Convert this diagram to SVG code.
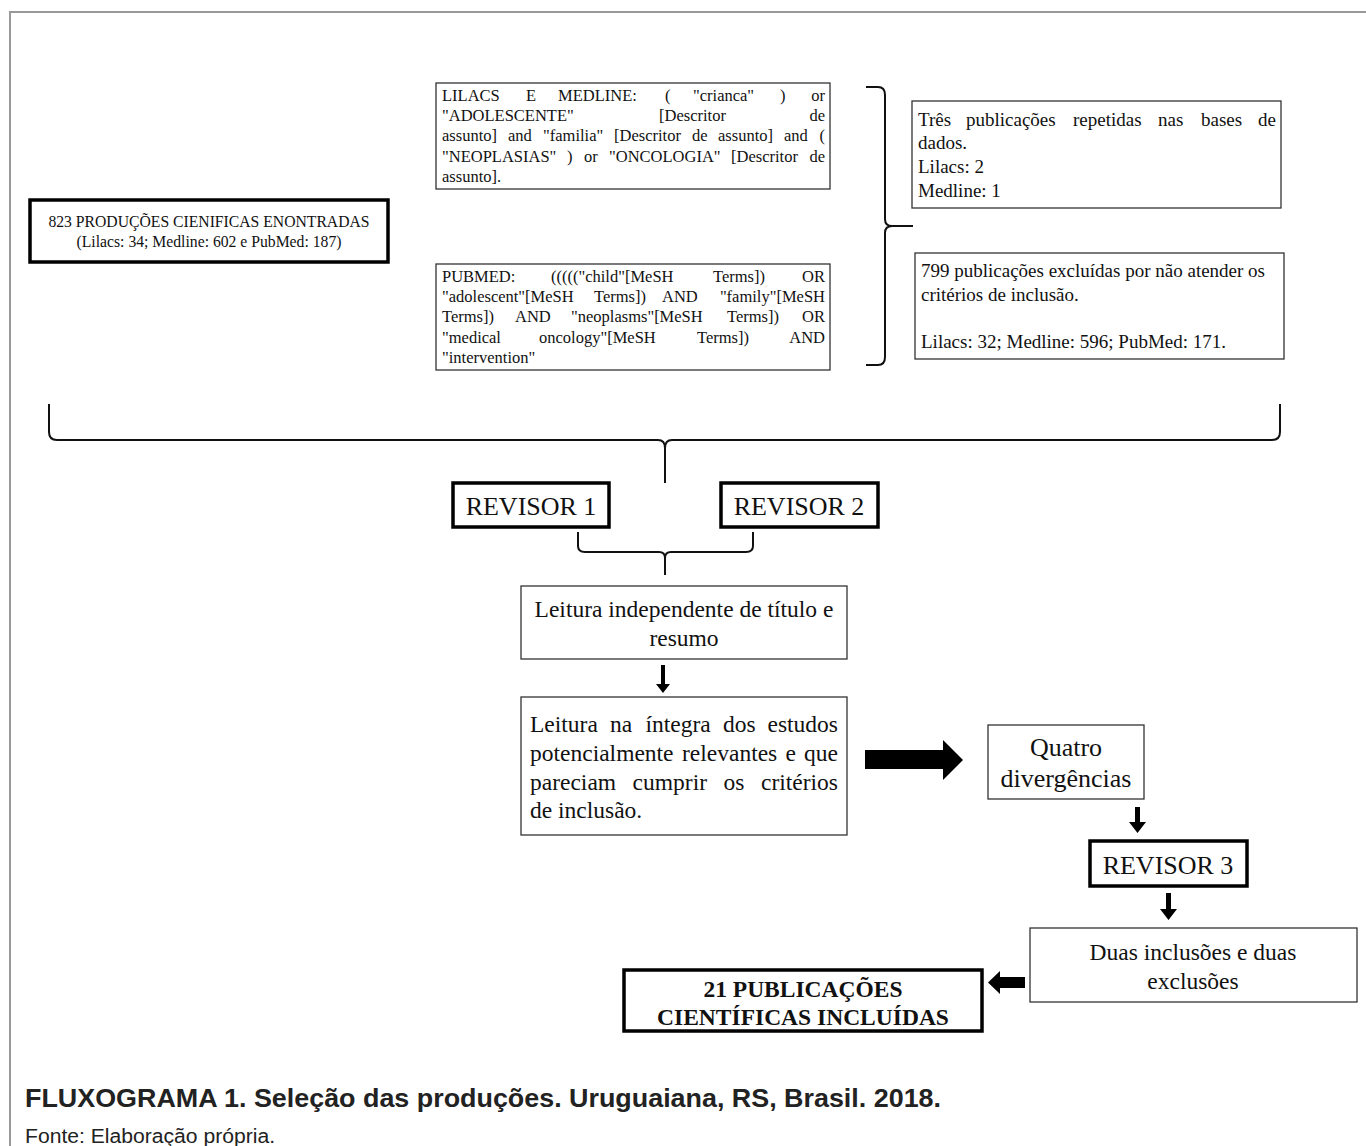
<svg xmlns="http://www.w3.org/2000/svg" width="1366" height="1146" viewBox="0 0 1366 1146">
<style>
.t{font-family:"Liberation Serif","Times New Roman",serif;fill:#111}
.s{font-size:16.5px}
.m{font-size:19px}
.l{font-size:23.5px}
.xl{font-size:26px}
.thin{fill:#fff;stroke:#333;stroke-width:1.3}
.thick{fill:#fff;stroke:#000;stroke-width:3.5}
.br{fill:none;stroke:#111;stroke-width:2}
.ar{fill:#000}
.cap{font-family:"Liberation Sans",Arial,sans-serif;fill:#222}
</style>
<rect x="0" y="0" width="1366" height="1146" fill="#fff"/>
<path d="M10 1146 V12 H1366" fill="none" stroke="#999" stroke-width="2"/>

<g id="n-total">
<rect class="thick" x="30" y="200" width="358" height="62"/>
<text class="t" font-size="15.7" x="209" y="227" text-anchor="middle">823 PRODUÇÕES CIENIFICAS ENONTRADAS</text>
<text class="t" font-size="15.7" x="209" y="247" text-anchor="middle">(Lilacs: 34; Medline: 602 e PubMed: 187)</text>
</g>

<g id="n-lilacs">
<rect class="thin" x="436" y="83" width="394" height="106"/>
<text class="t s" y="101"><tspan x="442">LILACS</tspan><tspan x="526">E</tspan><tspan x="558">MEDLINE:</tspan><tspan x="665">(</tspan><tspan x="693">"crianca"</tspan><tspan x="780">)</tspan><tspan x="825" text-anchor="end">or</tspan></text>
<text class="t s" y="121"><tspan x="442">"ADOLESCENTE"</tspan><tspan x="659">[Descritor</tspan><tspan x="825" text-anchor="end">de</tspan></text>
<text class="t s" y="141"><tspan x="442">assunto]</tspan><tspan x="508">and</tspan><tspan x="543">"familia"</tspan><tspan x="614">[Descritor</tspan><tspan x="692">de</tspan><tspan x="718">assunto]</tspan><tspan x="784">and</tspan><tspan x="825" text-anchor="end">(</tspan></text>
<text class="t s" y="162"><tspan x="442">"NEOPLASIAS"</tspan><tspan x="567">)</tspan><tspan x="584">or</tspan><tspan x="609">"ONCOLOGIA"</tspan><tspan x="731">[Descritor</tspan><tspan x="825" text-anchor="end">de</tspan></text>
<text class="t s" x="442" y="182">assunto].</text>
</g>

<g id="n-pubmed">
<rect class="thin" x="436" y="264" width="394" height="106"/>
<text class="t s" y="282"><tspan x="442">PUBMED:</tspan><tspan x="551">((((("child"[MeSH</tspan><tspan x="713">Terms])</tspan><tspan x="825" text-anchor="end">OR</tspan></text>
<text class="t s" y="302"><tspan x="442">"adolescent"[MeSH</tspan><tspan x="594">Terms])</tspan><tspan x="662">AND</tspan><tspan x="825" text-anchor="end">"family"[MeSH</tspan></text>
<text class="t s" y="322"><tspan x="442">Terms])</tspan><tspan x="515">AND</tspan><tspan x="571">"neoplasms"[MeSH</tspan><tspan x="727">Terms])</tspan><tspan x="825" text-anchor="end">OR</tspan></text>
<text class="t s" y="343"><tspan x="442">"medical</tspan><tspan x="539">oncology"[MeSH</tspan><tspan x="697">Terms])</tspan><tspan x="825" text-anchor="end">AND</tspan></text>
<text class="t s" x="442" y="363">"intervention"</text>
</g>

<g id="n-repetidas">
<rect class="thin" x="912" y="101" width="369" height="107"/>
<text class="t m" y="126"><tspan x="918">Três</tspan><tspan x="966">publicações</tspan><tspan x="1073">repetidas</tspan><tspan x="1158">nas</tspan><tspan x="1201">bases</tspan><tspan x="1276" text-anchor="end">de</tspan></text>
<text class="t m" x="918" y="149">dados.</text>
<text class="t m" x="918" y="173">Lilacs: 2</text>
<text class="t m" x="918" y="197">Medline: 1</text>
</g>

<g id="n-excluidas">
<rect class="thin" x="915" y="253" width="369" height="106"/>
<text class="t m" x="921" y="277">799 publicações excluídas por não atender os</text>
<text class="t m" x="921" y="301">critérios de inclusão.</text>
<text class="t m" x="921" y="348">Lilacs: 32; Medline: 596; PubMed: 171.</text>
</g>

<g id="n-revisor1">
<rect class="thick" x="453" y="483" width="156" height="44"/>
<text class="t xl" x="531" y="515" text-anchor="middle">REVISOR 1</text>
</g>
<g id="n-revisor2">
<rect class="thick" x="721" y="483" width="157" height="44"/>
<text class="t xl" x="799" y="515" text-anchor="middle">REVISOR 2</text>
</g>

<g id="n-leitura1">
<rect class="thin" x="521" y="586" width="326" height="73"/>
<text class="t l" x="684" y="617" text-anchor="middle">Leitura independente de título e</text>
<text class="t l" x="684" y="646" text-anchor="middle">resumo</text>
</g>

<g id="n-leitura2">
<rect class="thin" x="521" y="697" width="326" height="138"/>
<text class="t l" y="732"><tspan x="530">Leitura</tspan><tspan x="610">na</tspan><tspan x="645.5">íntegra</tspan><tspan x="723">dos</tspan><tspan x="838" text-anchor="end">estudos</tspan></text>
<text class="t l" y="761"><tspan x="530">potencialmente</tspan><tspan x="682">relevantes</tspan><tspan x="785.5">e</tspan><tspan x="838" text-anchor="end">que</tspan></text>
<text class="t l" y="790"><tspan x="530">pareciam</tspan><tspan x="632.6">cumprir</tspan><tspan x="723.5">os</tspan><tspan x="838" text-anchor="end">critérios</tspan></text>
<text class="t l" x="530" y="818">de inclusão.</text>
</g>

<g id="n-quatro">
<rect class="thin" x="988" y="725" width="156" height="74"/>
<text class="t xl" x="1066" y="756" text-anchor="middle">Quatro</text>
<text class="t xl" x="1066" y="787" text-anchor="middle">divergências</text>
</g>

<g id="n-revisor3">
<rect class="thick" x="1090" y="841" width="157" height="45"/>
<text class="t xl" x="1168" y="874" text-anchor="middle">REVISOR 3</text>
</g>

<g id="n-duas">
<rect class="thin" x="1030" y="928" width="327" height="74"/>
<text class="t l" x="1193" y="960" text-anchor="middle">Duas inclusões e duas</text>
<text class="t l" x="1193" y="989" text-anchor="middle">exclusões</text>
</g>

<g id="n-final">
<rect class="thick" x="624" y="970" width="358" height="61"/>
<text class="t l" font-weight="bold" x="803" y="997" text-anchor="middle">21 PUBLICAÇÕES</text>
<text class="t l" font-weight="bold" x="803" y="1025" text-anchor="middle">CIENTÍFICAS INCLUÍDAS</text>
</g>

<g id="connectors">
<path class="br" d="M866 87 H878 Q885 87 885 95 V219 Q885 226 892 226 H913 M892 226 Q885 226 885 233 V357 Q885 365 878 365 H866"/>
<path class="br" d="M49 404 V432 Q49 440 57 440 H658 Q665 440 665 448 V483 M665 448 Q665 440 672 440 H1272 Q1280 440 1280 432 V404"/>
<path class="br" d="M578 532 V546 Q578 552 585 552 H659 Q665 552 665 558 V575 M665 558 Q665 552 671 552 H746 Q753 552 753 546 V532" stroke-width="1.5"/>
<polygon class="ar" points="661,665 665,665 665,684 670,684 663,693 656,684 661,684"/>
<polygon class="ar" points="865,750 943,750 943,740 963,760 943,780 943,769 865,769"/>
<polygon class="ar" points="1135,807 1140,807 1140,822 1146,822 1137.5,833 1129,822 1135,822"/>
<polygon class="ar" points="1166,893 1171,893 1171,909 1177,909 1168.5,920 1160,909 1166,909"/>
<polygon class="ar" points="1025,977 1000,977 1000,971 988,982.5 1000,994 1000,988 1025,988"/>
</g>

<text class="cap" x="25" y="1107" font-size="25" font-weight="bold" textLength="916" lengthAdjust="spacingAndGlyphs">FLUXOGRAMA 1. Seleção das produções. Uruguaiana, RS, Brasil. 2018.</text>
<text class="cap" x="25" y="1143" font-size="19.5" textLength="250" lengthAdjust="spacingAndGlyphs">Fonte: Elaboração própria.</text>
</svg>
